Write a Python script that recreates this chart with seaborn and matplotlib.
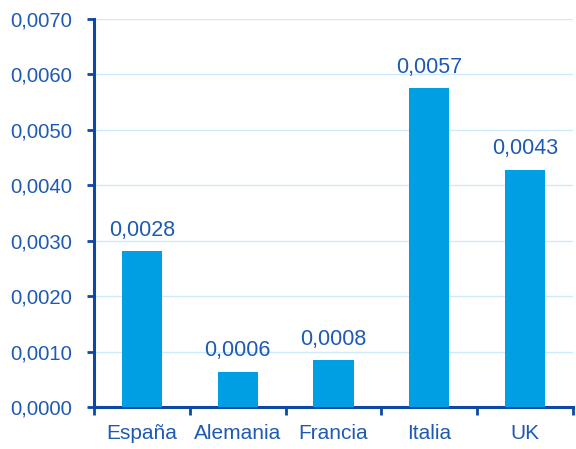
import matplotlib
matplotlib.use("Agg")
import matplotlib.pyplot as plt
from matplotlib.ticker import FuncFormatter, FixedLocator
import seaborn as sns
import pandas as pd

countries = ["España", "Alemania", "Francia", "Italia", "UK"]
values = [0.00281, 0.00064, 0.00084, 0.00575, 0.00428]

BAR = "#009FE3"
TEXT = "#1E5AB4"
AXIS = "#0D47A8"
GRID = "#CDEBF8"

sns.set_theme(style="white")
plt.rcParams["font.family"] = ["Liberation Sans", "DejaVu Sans"]

df = pd.DataFrame({"pais": countries, "valor": values})

fig = plt.figure(figsize=(5.76, 4.49), dpi=100)
ax = fig.add_axes([0.1632, 0.0935, 0.8316, 0.8642])

sns.barplot(data=df, x="pais", y="valor", color=BAR, saturation=1,
            width=0.42, linewidth=0, ax=ax, zorder=3)

ax.set_ylim(0, 0.007)
ax.set_xlim(-0.5, len(countries) - 0.5)
ax.set_yticks([i * 0.001 for i in range(8)])
ax.yaxis.set_major_formatter(FuncFormatter(lambda v, p: f"{v:.4f}".replace(".", ",")))
ax.yaxis.grid(True, color=GRID, linewidth=1, zorder=0)
ax.set_axisbelow(True)

ax.set_xlabel("")
ax.set_ylabel("")

for side in ["top", "right"]:
    ax.spines[side].set_visible(False)
for side in ["left", "bottom"]:
    ax.spines[side].set_color(AXIS)
    ax.spines[side].set_linewidth(2.2)

ax.tick_params(axis="y", which="major", direction="out", length=5, width=2,
               color=AXIS, labelcolor=TEXT, labelsize=14.6, pad=10.5, left=True)
ax.tick_params(axis="x", which="major", length=0, labelcolor=TEXT,
               labelsize=15, pad=12)
ax.xaxis.set_minor_locator(FixedLocator([i - 0.5 for i in range(len(countries) + 1)]))
ax.tick_params(axis="x", which="minor", direction="out", length=6, width=2,
               color=AXIS, bottom=True)

for i, v in enumerate(values):
    ax.annotate(f"{v:.4f}".replace(".", ","), xy=(i, v), xytext=(0, 7.5),
                textcoords="offset points", ha="center", va="bottom",
                color=TEXT, fontsize=15.5)

fig.savefig("out.png", dpi=100)
